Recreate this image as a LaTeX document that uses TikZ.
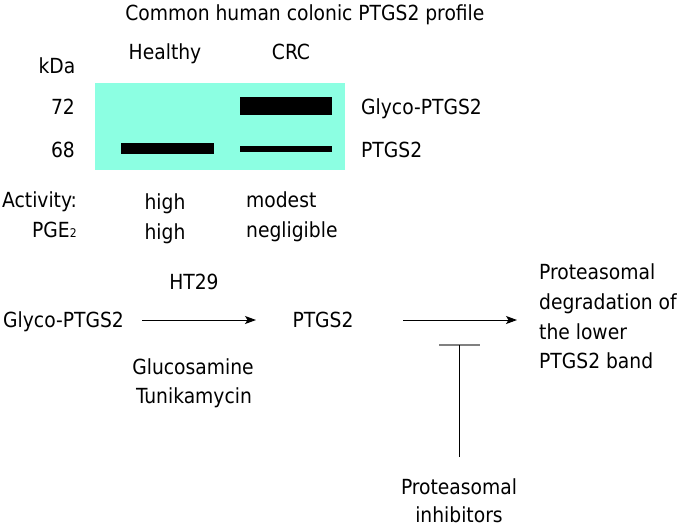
\documentclass[tikz,border=0pt]{standalone}
\usepackage{fontspec}
\setmainfont{DejaVu Sans Condensed}
\usetikzlibrary{arrows.meta}
\definecolor{gel}{RGB}{140,255,226}
\definecolor{bargray}{RGB}{128,128,128}
\begin{document}
\begin{tikzpicture}[x=1pt,y=-1pt,
  lbl/.style={inner sep=0pt,font=\fontsize{20.8}{25}\selectfont,text height=15.2pt,text depth=0pt},
  lw/.style={lbl,anchor=west},
  conn/.style={line width=0.9pt,-{Stealth[length=11pt,width=8pt,inset=2.5pt]}},
  block/.style={line width=2.8pt,draw=bargray}]
\useasboundingbox (0,0) rectangle (679,528);
\fill[white] (0,0) rectangle (679,528);
% gel
\fill[gel] (95,83) rectangle (345,170);
\fill (240,97) rectangle (332,115);
\fill (121,143) rectangle (214,154);
\fill (240,146) rectangle (332,152);
\node[lbl] (title) at (305,13) {Common human colonic PTGS2 profile};
\node[lbl] (healthy) at (165,52) {Healthy};
\node[lbl] (crc) at (291,52) {CRC};
\node[lbl] (kda) at (57,66) {kDa};
\node[lbl] (k72) at (63,107) {72};
\node[lbl] (k68) at (63,150) {68};
\node[lw] (glyband) at (361,107) {Glyco-PTGS2};
\node[lw] (ptgsband) at (361,150) {PTGS2};
\node[lw] (act) at (2,200) {Activity:};
\node[lw] (pge) at (32,230) {PGE{\fontsize{12}{12}\selectfont 2}};
\node[lbl] (h1) at (165,202) {high};
\node[lbl] (h2) at (165,232) {high};
\node[lw] (mod) at (246,200) {modest};
\node[lw] (neg) at (246,230) {negligible};
% pathway
\node[lw] (glyco) at (3,320) {Glyco-PTGS2};
\node[lbl] (ht29) at (194,282) {HT29};
\node[lbl] (ptgs2) at (323,320) {PTGS2};
\node[lbl] (gluc) at (193,367) {Glucosamine};
\node[lbl] (tuni) at (194,396) {Tunikamycin};
\node[lw] (deg1) at (539,272) {Proteasomal};
\node[lw] (deg2) at (539,302) {degradation of};
\node[lw] (deg3) at (539,332) {the lower};
\node[lw] (deg4) at (539,361) {PTGS2 band};
\node[lbl] (inh1) at (459,487) {Proteasomal};
\node[lbl] (inh2) at (459,515) {inhibitors};
\coordinate (a1s) at (142,320);
\coordinate (a1e) at (256,320);
\coordinate (a2s) at (403,320);
\coordinate (a2e) at (517,320);
\coordinate (bl) at (439,345);
\coordinate (br) at (480,345);
\coordinate (bm) at (459,345);
\coordinate (bb) at (459,457);
\draw[conn] (a1s) -- (a1e);
\draw[conn] (a2s) -- (a2e);
\draw[block] (bl) -- (br);
\draw[line width=0.9pt] (bb) -- (bm);
\end{tikzpicture}
\end{document}
